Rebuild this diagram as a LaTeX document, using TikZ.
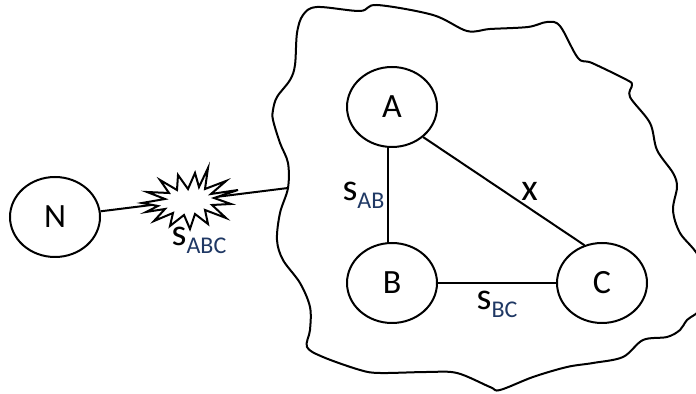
\documentclass[tikz,border=0pt]{standalone}
\usepackage{fontspec}
\setmainfont{Carlito}
\usepackage{tikz}
\usetikzlibrary{shapes.geometric,positioning}
\definecolor{subnavy}{HTML}{1F3864}
\newcommand{\sublbl}[1]{\raisebox{-0.45ex}{\fontsize{12}{14}\selectfont\color{subnavy}#1}}

\begin{document}
\begin{tikzpicture}[x=0.5pt,y=-0.5pt,
  peer/.style={draw, ellipse, line width=1pt, minimum width=45pt, minimum height=40pt, font=\fontsize{17}{19}\selectfont, inner sep=0pt},
  link/.style={line width=1pt},
  lbl/.style={font=\fontsize{19}{21}\selectfont, inner sep=1pt},
  cloud/.style={line width=1pt, line join=round}
]
\useasboundingbox (0,0) rectangle (696,394);
\clip (0,0) rectangle (696,394);

\draw[cloud] plot[smooth cycle, tension=0.55] coordinates {
  (303,15) (317,7) (360,11) (377,5) (433,15) (467,31) (490,29) (528,27)
  (547,22) (560,26) (578,58) (592,63) (627,80) (632,85) (630,97) (650,123)
  (657,150) (673,173) (677,187) (673,210) (680,233) (700,260) (702,305)
  (687,320) (680,330) (667,337) (643,340) (623,357) (593,363) (567,367)
  (533,377) (500,390) (490,387) (457,373) (427,372) (380,373) (360,370)
  (323,357) (307,347) (310,330) (310,307) (300,283) (283,260) (277,240)
  (280,213) (288,188) (288,163) (280,143) (273,120) (273,110) (277,97)
  (290,80) (295,65) (297,33)};

\node[peer] (N) at (55,217) {N};
\node[peer] (A) at (392,107) {A};
\node[peer] (B) at (392,283) {B};
\node[peer] (C) at (602,283) {C};
\coordinate (tap) at (288,188);

\draw[link] (N) -- (tap);
% noise burst sitting on the N link
\draw[link, fill=white, line join=miter] plot coordinates {
  (142,203) (165,199) (147,192) (169,193) (160,180) (177,190) (178,175)
  (188,189) (195,173) (199,187) (208,168) (205,189) (226,181) (211,194)
  (238,190) (214,198) (231,204) (212,205) (226,218) (205,210) (208,224)
  (195,214) (190,229) (184,215) (170,226) (173,213) (154,221) (165,209)
  (146,212) (158,206)} -- cycle;
\node[lbl] (sabc) at (199,240) {s\sublbl{ABC}};

\draw[link] (A.-95) -- node[lbl, left=0.5pt] (sab) {s\sublbl{AB}} (B.95);
\draw[link] (A.-44) -- node[lbl, pos=0.66, above=2.5pt] (sx) {x} (C.115);
\draw[link] (B) -- node[lbl, below=2.5pt] (sbc) {s\sublbl{BC}} (C);
\end{tikzpicture}
\end{document}
